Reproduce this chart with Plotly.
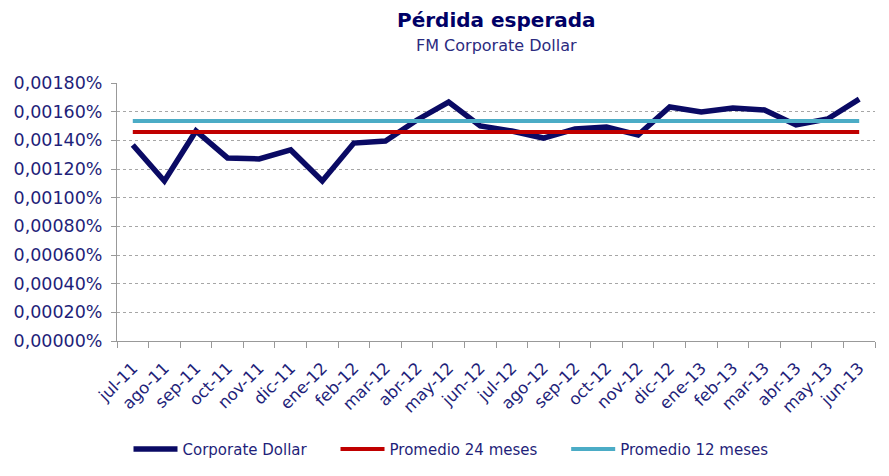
import plotly.graph_objects as go

months = ["jul-11", "ago-11", "sep-11", "oct-11", "nov-11", "dic-11", "ene-12", "feb-12",
          "mar-12", "abr-12", "may-12", "jun-12", "jul-12", "ago-12", "sep-12", "oct-12",
          "nov-12", "dic-12", "ene-13", "feb-13", "mar-13", "abr-13", "may-13", "jun-13"]

# values in percent units (e.g. 0.00137 means 0,00137%)
corporate_dollar = [0.001367, 0.001116, 0.001465, 0.001277, 0.001270, 0.001333, 0.001116, 0.001381,
                    0.001395, 0.001542, 0.001667, 0.001500, 0.001465, 0.001416, 0.001479, 0.001493,
                    0.001437, 0.001633, 0.001598, 0.001626, 0.001612, 0.001507, 0.001549, 0.001688]
promedio_24 = [0.001458] * len(months)
promedio_12 = [0.001535] * len(months)

series_names = ["Corporate Dollar", "Promedio 24 meses", "Promedio 12 meses"]
title_text = "Pérdida esperada"
subtitle_text = "FM Corporate Dollar"

text_color = "#1F1F7A"
font_family = "DejaVu Sans, Verdana, sans-serif"
pad = "&nbsp;" * 5

fig = go.Figure()
fig.add_trace(go.Scatter(x=months, y=corporate_dollar, mode="lines", name=series_names[0] + pad,
                         line=dict(color="#0A0A64", width=5.5)))
fig.add_trace(go.Scatter(x=months, y=promedio_24, mode="lines", name=series_names[1] + pad,
                         line=dict(color="#C00000", width=4)))
fig.add_trace(go.Scatter(x=months, y=promedio_12, mode="lines", name=series_names[2],
                         line=dict(color="#4BACC6", width=4)))

fig.update_layout(
    width=889, height=476,
    margin=dict(l=117, r=14, t=83, b=135, autoexpand=False),
    paper_bgcolor="white", plot_bgcolor="white",
    separators=",.",
    font=dict(family=font_family, color=text_color, size=15),
    showlegend=True,
    legend=dict(orientation="h", x=0.5 - 45 / 758, xanchor="center", y=0.056, yanchor="middle",
                yref="container", font=dict(size=15, color=text_color),
                itemwidth=44, bgcolor="rgba(0,0,0,0)"),
    annotations=[
        dict(text="<b>" + title_text + "</b>", xref="paper", yref="paper", x=0.5, y=1.244,
             xanchor="center", yanchor="middle", showarrow=False,
             font=dict(family=font_family, size=20, color="#000066")),
        dict(text=subtitle_text, xref="paper", yref="paper", x=0.5, y=1.147,
             xanchor="center", yanchor="middle", showarrow=False,
             font=dict(family=font_family, size=16, color="#2B2B80")),
    ],
)

fig.update_xaxes(
    type="category", tickangle=-45, tickson="boundaries", automargin=False,
    ticks="outside", ticklen=6, tickcolor="#999999",
    showline=True, linecolor="#999999", linewidth=1,
    showgrid=False, tickfont=dict(size=16.5, color=text_color),
    ticklabelstandoff=10,
    range=[-0.5, len(months) - 0.5],
)
fig.update_yaxes(
    range=[0, 0.0018000001], dtick=0.0002, tick0=0, automargin=False,
    tickformat=".5f", ticksuffix="%",
    ticks="outside", ticklen=5, tickcolor="#999999",
    showline=True, linecolor="#999999", linewidth=1,
    showgrid=True, gridcolor="#A6A6A6", griddash="dot", gridwidth=1,
    zeroline=False, tickfont=dict(size=17.5, color=text_color),
    ticklabelstandoff=5,
)

fig.write_html("out.html", config={"displayModeBar": False},
               post_script="document.body.style.margin='0';")
